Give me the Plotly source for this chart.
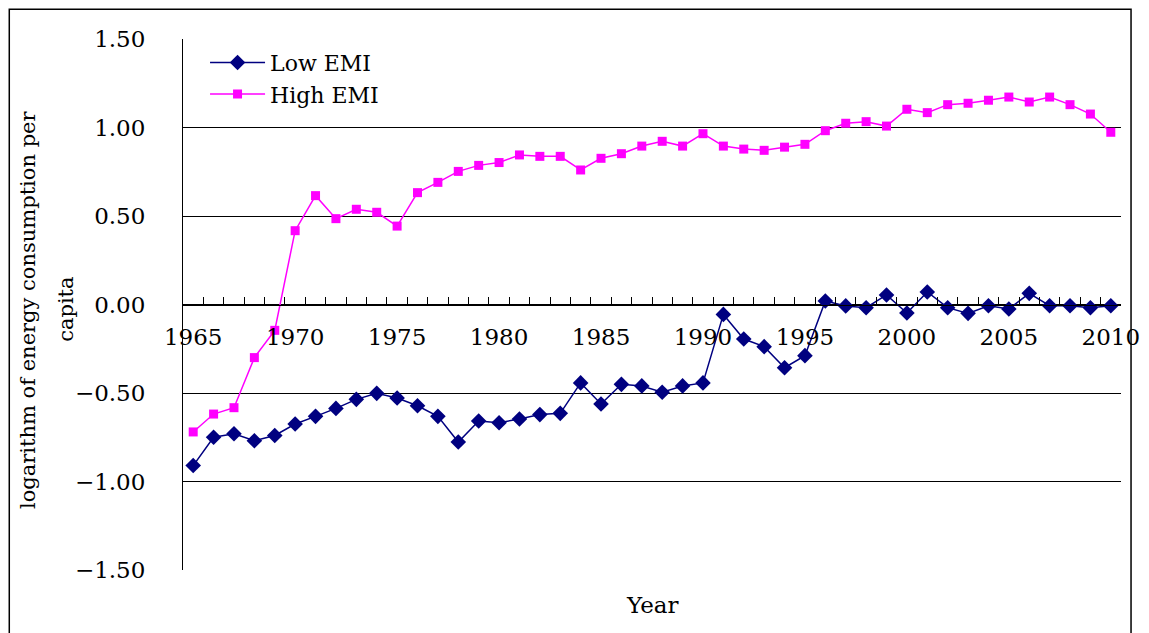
import plotly.graph_objects as go

# ==========================================================
# DATA
# ==========================================================

years = list(range(1965, 2011))

low_emi = [
    -0.91, -0.75, -0.73, -0.77, -0.74, -0.675, -0.632, -0.587, -0.536, -0.502,
    -0.528, -0.572, -0.632, -0.777, -0.658, -0.668, -0.647, -0.622, -0.615, -0.443,
    -0.562, -0.451, -0.460, -0.496, -0.460, -0.443, -0.056, -0.195, -0.238, -0.357,
    -0.289, 0.020, -0.008, -0.018, 0.054, -0.048, 0.071, -0.018, -0.050, -0.007,
    -0.025, 0.063, -0.007, -0.007, -0.018, -0.007,
]

high_emi = [
    -0.72, -0.619, -0.583, -0.30, -0.146, 0.417, 0.615, 0.485, 0.538, 0.521,
    0.443, 0.632, 0.690, 0.752, 0.786, 0.802, 0.845, 0.837, 0.837, 0.760,
    0.826, 0.852, 0.895, 0.922, 0.895, 0.965, 0.895, 0.878, 0.871, 0.889,
    0.905, 0.982, 1.024, 1.033, 1.008, 1.103, 1.084, 1.129, 1.137, 1.154,
    1.172, 1.144, 1.172, 1.129, 1.076, 0.973,
]

y_ticks = [-1.5, -1.0, -0.5, 0.0, 0.5, 1.0, 1.5]
x_label_years = [1965, 1970, 1975, 1980, 1985, 1990, 1995, 2000, 2005, 2010]

FONT = "DejaVu Serif"

# ==========================================================
# FIGURE
# ==========================================================

fig = go.Figure()

fig.add_trace(
    go.Scatter(
        x=years,
        y=low_emi,
        name="Low EMI",
        mode="lines+markers",
        line=dict(color="#000080", width=1.5),
        marker=dict(symbol="diamond", size=12, color="#000080"),
    )
)

fig.add_trace(
    go.Scatter(
        x=years,
        y=high_emi,
        name="High EMI",
        mode="lines+markers",
        line=dict(color="#FF00FF", width=1.5),
        marker=dict(symbol="square", size=9, color="#FF00FF"),
    )
)

# asse etichette anni (sovrapposto, senza tacche)
fig.add_trace(
    go.Scatter(x=[years[0]], y=[None], xaxis="x2", showlegend=False, hoverinfo="skip")
)

x_range = [years[0] - 0.5, years[-1] + 0.5]
# tacche fra le categorie, stile Excel
boundaries = [y + 0.5 for y in years[:-1]]

fig.update_layout(
    width=1149,
    height=633,
    paper_bgcolor="white",
    plot_bgcolor="white",
    font=dict(family=FONT, size=23, color="black"),
    # il body della pagina aggiunge 8px: margini compensati
    margin=dict(l=175, r=36, t=31, b=71),
    showlegend=True,
    legend=dict(
        x=0.0235,
        y=0.995,
        xanchor="left",
        yanchor="top",
        bgcolor="rgba(0,0,0,0)",
        font=dict(family=FONT, size=22),
        tracegroupgap=0,
        itemwidth=55,
    ),
    xaxis=dict(
        range=x_range,
        tickvals=boundaries,
        showticklabels=False,
        ticks="inside",
        ticklen=8,
        tickcolor="black",
        showgrid=False,
        zeroline=False,
        showline=True,
        linecolor="black",
        linewidth=1,
        anchor="free",
        position=0.5,
    ),
    xaxis2=dict(
        range=x_range,
        overlaying="x",
        tickvals=x_label_years,
        ticktext=[str(v) for v in x_label_years],
        ticks="",
        showgrid=False,
        zeroline=False,
        showline=False,
        anchor="free",
        position=0.5,
        side="bottom",
        ticklabelstandoff=16,
        tickfont=dict(family=FONT, size=23),
    ),
    yaxis=dict(
        range=[-1.5, 1.5],
        tickvals=y_ticks,
        ticktext=[f"{v:.2f}".replace("-", "\u2212") for v in y_ticks],
        ticks="",
        showgrid=True,
        gridcolor="black",
        gridwidth=1,
        zeroline=False,
        showline=True,
        linecolor="black",
        linewidth=1,
        ticklabelstandoff=32,
        tickfont=dict(family=FONT, size=23),
    ),
)

# titolo asse Y su due righe
fig.add_annotation(
    text="logarithm of energy consumption per",
    xref="paper", yref="paper",
    x=-0.165, y=0.49,
    textangle=-90,
    showarrow=False,
    xanchor="center", yanchor="middle",
    font=dict(family=FONT, size=21),
)
fig.add_annotation(
    text="capita",
    xref="paper", yref="paper",
    x=-0.1247, y=0.49,
    textangle=-90,
    showarrow=False,
    xanchor="center", yanchor="middle",
    font=dict(family=FONT, size=21),
)

# titolo asse X
fig.add_annotation(
    text="Year",
    xref="paper", yref="paper",
    x=0.5, y=-0.066,
    showarrow=False,
    xanchor="center", yanchor="middle",
    font=dict(family=FONT, size=23),
)

# bordo esterno del grafico
fig.add_shape(
    type="rect",
    xref="paper", yref="paper",
    x0=-0.1852, x1=1.0107,
    y0=-0.14, y1=1.056,
    line=dict(color="black", width=1.5),
    fillcolor="rgba(0,0,0,0)",
    layer="below",
)

fig.write_html("out.html")
